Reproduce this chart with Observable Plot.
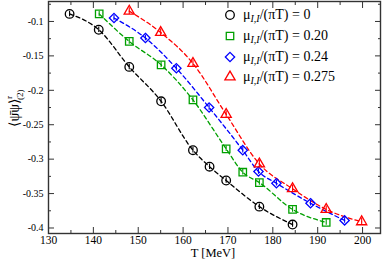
<!DOCTYPE html>
<html><head><meta charset="utf-8">
<script src="https://cdn.jsdelivr.net/npm/d3@7"></script>
<script src="https://cdn.jsdelivr.net/npm/@observablehq/plot@0.6"></script>
<style>
body{margin:0;background:#fff;}
#wrap{position:relative;width:382px;height:260px;font-family:"Liberation Serif",serif;}
#wrap svg text{font-family:"Liberation Serif",serif;}
#legend{position:absolute;left:222px;top:5px;}
.row{display:flex;align-items:center;height:20.7px;font-size:14px;white-space:nowrap;}
.row svg{width:16px;height:16px;margin-right:5px;flex:none;}
.row sub{font-size:10px;font-style:italic;vertical-align:-3px;line-height:0;}
</style></head><body><div id="wrap"><div id="legend"></div></div>
<script>
// mu/(pi T) = 0
const T0 = [134.7, 141.2, 148, 155.1, 162.2, 165.9, 169.6, 177, 184.4];
const V0 = [-0.089, -0.112, -0.166, -0.216, -0.287, -0.311, -0.331, -0.369, -0.395];
const E0 = [0.004, 0.004, 0.004, 0.004, 0.004, 0.004, 0.004, 0.004, 0.004];
// 0.20
const T20 = [141.3, 148, 155.1, 162.2, 169.6, 173.3, 177, 184.4, 191.9];
const V20 = [-0.089, -0.129, -0.163, -0.214, -0.285, -0.319, -0.334, -0.373, -0.392];
const E20 = [0.004, 0.004, 0.004, 0.004, 0.004, 0.004, 0.004, 0.004, 0.004];
// 0.24
const T24 = [144.6, 151.6, 158.5, 165.8, 173.3, 176.8, 180.8, 188.4, 196];
const V24 = [-0.095, -0.124, -0.168, -0.225, -0.287, -0.318, -0.335, -0.364, -0.389];
const E24 = [0.004, 0.004, 0.004, 0.004, 0.004, 0.004, 0.004, 0.004, 0.004];
// 0.275
const T275 = [148, 155, 162.2, 169.6, 177, 184.4, 191.9, 199.8];
const V275 = [-0.085, -0.116, -0.161, -0.235, -0.307, -0.343, -0.373, -0.391];
const E275 = [0.005, 0.005, 0.005, 0.005, 0.005, 0.005, 0.005, 0.005];

const labels = ["0", "0.20", "0.24", "0.275"];
const colors = ["#000000", "#00a000", "#0000ff", "#ff0000"];
const symbols = ["circle", "square", "diamond2", "triangle"];
const radii = [4.3, 4.2, 4.2, 3.8];

const xMajor = [130, 140, 150, 160, 170, 180, 190, 200];
const xMinor = [135, 145, 155, 165, 175, 185, 195];
const yMajor = [-0.1, -0.15, -0.2, -0.25, -0.3, -0.35, -0.4];
const yMinor = [-0.075, -0.125, -0.175, -0.225, -0.275, -0.325, -0.375];
const yTickLabels = ["-0.1", "-0.15", "-0.2", "-0.25", "-0.3", "-0.35", "-0.4"];

const FONT = "Liberation Serif, serif";

const series = [[T0, V0, E0], [T20, V20, E20], [T24, V24, E24], [T275, V275, E275]]
  .map(([T, V, E]) => T.map((t, i) => ({T: t, v: V[i], lo: V[i] - E[i], hi: V[i] + E[i]})));

const marks = [];
series.forEach((d, k) => {
  marks.push(Plot.line(d, {x: "T", y: "v", curve: "monotone-x", stroke: colors[k], strokeWidth: 1.3, strokeDasharray: "4,3"}));
});
series.forEach((d, k) => {
  marks.push(Plot.ruleX(d, {x: "T", y1: "lo", y2: "hi", stroke: colors[k], strokeWidth: 1.1}));
  marks.push(Plot.dot(d, {x: "T", y: "v", symbol: () => symbols[k], r: radii[k], stroke: colors[k], strokeWidth: 1.3, fill: "none"}));
});

const tickOpts = {tickFormat: () => "", label: null, strokeWidth: 1, stroke: "#333"};
marks.push(
  Plot.axisX({anchor: "bottom", ticks: xMajor, tickSize: 0, tickPadding: 2, tickFormat: d => String(d), label: null, fontSize: 11.5, fontFamily: FONT}),
  Plot.axisX({anchor: "bottom", ticks: xMajor, tickSize: -6, ...tickOpts}),
  Plot.axisX({anchor: "bottom", ticks: xMinor, tickSize: -3, ...tickOpts}),
  Plot.axisX({anchor: "top", ticks: xMajor, tickSize: -6, ...tickOpts}),
  Plot.axisX({anchor: "top", ticks: xMinor, tickSize: -3, ...tickOpts}),
  Plot.axisY({anchor: "left", ticks: yMajor, tickSize: 0, tickPadding: 5, tickFormat: (d, i) => yTickLabels[i], label: null, fontSize: 10, fontFamily: FONT}),
  Plot.axisY({anchor: "left", ticks: yMajor, tickSize: -6, ...tickOpts}),
  Plot.axisY({anchor: "left", ticks: yMinor, tickSize: -3, ...tickOpts}),
  Plot.axisY({anchor: "right", ticks: yMajor, tickSize: -6, ...tickOpts}),
  Plot.axisY({anchor: "right", ticks: yMinor, tickSize: -3, ...tickOpts}),
  Plot.frame({stroke: "#333", strokeWidth: 1.4})
);

const plot = Plot.plot({
  width: 382, height: 260,
  marginLeft: 48, marginRight: 2, marginTop: 1, marginBottom: 27,
  x: {domain: [130, 204]},
  y: {domain: [-0.408, -0.071]},
  style: {fontFamily: FONT, color: "#000", background: "#fff", overflow: "visible"},
  marks
});
plot.setAttribute("font-family", FONT);
document.getElementById("wrap").prepend(plot);

const svg = d3.select(plot);
svg.append("text")
  .attr("x", 213).attr("y", 257.2).attr("text-anchor", "middle")
  .attr("font-size", 12.5).attr("fill", "#000").text("T [MeV]");
const yl = svg.append("text")
  .attr("transform", "translate(19,108) rotate(-90)")
  .attr("text-anchor", "middle").attr("font-size", 14).attr("fill", "#000");
yl.append("tspan").text("\u27E8\u03C8\u0304\u03C8\u27E9");
yl.append("tspan").attr("font-size", 9).attr("dy", -7).text("r");
yl.append("tspan").attr("font-size", 9).attr("dx", -4).attr("dy", 11).text("(2)");

const legend = d3.select("#legend");
labels.forEach((lab, k) => {
  const row = legend.append("div").attr("class", "row");
  const s = row.append("svg").attr("viewBox", "-8 -8 16 16");
  const sym = {circle: d3.symbolCircle, square: d3.symbolSquare, diamond2: d3.symbolDiamond2, triangle: d3.symbolTriangle}[symbols[k]];
  s.append("path").attr("d", d3.symbol(sym, Math.PI * radii[k] * radii[k])())
    .attr("fill", "none").attr("stroke", colors[k]).attr("stroke-width", 1.3);
  row.append("span").html(`\u03BC<sub>I,I</sub>/(\u03C0T) = ${lab}`);
});
</script></body></html>
